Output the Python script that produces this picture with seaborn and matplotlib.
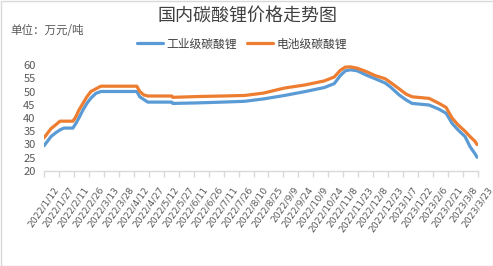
import matplotlib
matplotlib.use("Agg")
import matplotlib.pyplot as plt
import matplotlib.transforms as mtransforms
import seaborn as sns
import pandas as pd
from matplotlib.patches import Rectangle
from matplotlib.lines import Line2D

dates = ["2022-01-12","2022-01-15","2022-01-19","2022-01-24","2022-01-28","2022-02-01","2022-02-10",
         "2022-02-13","2022-02-16","2022-02-20","2022-02-24","2022-02-28","2022-03-05","2022-03-10",
         "2022-04-15","2022-04-18","2022-04-22","2022-04-26","2022-05-20","2022-05-21","2022-06-15",
         "2022-07-10","2022-08-01","2022-08-20","2022-09-10","2022-10-01","2022-10-20","2022-10-30",
         "2022-11-05","2022-11-10","2022-11-15","2022-11-22","2022-12-01","2022-12-10","2022-12-20",
         "2022-12-25","2023-01-03","2023-01-10","2023-01-16","2023-02-02","2023-02-12","2023-02-19",
         "2023-02-25","2023-03-03","2023-03-10","2023-03-15","2023-03-20","2023-03-22"]
industrial = [29.5, 31, 33, 34.5, 35.5, 36.2, 36.2,
              38, 40, 43, 45.5, 47.5, 49.3, 50,
              50, 48, 47, 46, 46, 45.5, 45.7,
              46, 46.3, 47.2, 48.5, 50, 51.5, 53,
              56, 57.8, 58.2, 57.8, 56.2, 54.8, 53.2,
              51.8, 48.7, 46.8, 45.5, 44.9, 43.3, 41.8,
              38.0, 35.5, 33.0, 29.2, 26.5, 25.2]
battery = [32.5, 34, 36, 37.5, 38.8, 38.8, 38.8,
           40.5, 43, 45.5, 48, 50, 51, 52,
           52, 50, 48.7, 48.3, 48.3, 47.8, 48.1,
           48.3, 48.5, 49.4, 51.3, 52.5, 54, 55.5,
           58, 59.2, 59.3, 58.8, 57.5, 56, 54.8,
           53.5, 51, 49, 48, 47.4, 45.5, 44,
           40, 37.4, 35, 33, 31.2, 30]
series_names = ["工业级碳酸锂", "电池级碳酸锂"]
title = "国内碳酸锂价格走势图"
unit_label = "单位：万元/吨"
y_ticks = [20, 25, 30, 35, 40, 45, 50, 55, 60]

sns.set_theme(style="white")
plt.rcParams['font.family'] = ['Noto Sans CJK SC', 'DejaVu Sans']

df = pd.concat([
    pd.DataFrame({"date": pd.to_datetime(dates), "price": industrial, "series": series_names[0]}),
    pd.DataFrame({"date": pd.to_datetime(dates), "price": battery, "series": series_names[1]}),
])

fig = plt.figure(figsize=(4.93, 2.66), dpi=100)
ax = fig.add_axes([44/493, 1-171/266, (478-44)/493, (171-65)/266])
sns.lineplot(data=df, x="date", y="price", hue="series", hue_order=series_names,
             palette=["#5B9BD5", "#ED7D31"], linewidth=2.3, ax=ax, legend=False)

start = pd.Timestamp("2022-01-12")
end = pd.Timestamp("2023-03-23")
ticks = pd.date_range(start, end, freq="15D")
ax.set_xlim(start, end)
ax.set_xticks(ticks)
ax.set_xticklabels([])
base = mtransforms.blended_transform_factory(ax.transData, ax.transAxes)
offset = mtransforms.ScaledTranslation(9/100, -14/100, fig.dpi_scale_trans)
for d in ticks:
    ax.text(d, 0, f"{d.year}/{d.month}/{d.day}", transform=base + offset, rotation=55,
            ha="right", va="top", rotation_mode="anchor", fontsize=6.6,
            color="#595959", family="DejaVu Sans", clip_on=False)
ax.set_ylim(20, 60)
ax.set_yticks(y_ticks)
ax.set_yticklabels([str(v) for v in y_ticks], fontsize=8, color="#595959")
ax.set_xlabel("")
ax.set_ylabel("")
for s in ["top", "right", "left"]:
    ax.spines[s].set_visible(False)
ax.spines["bottom"].set_color("#d9d9d9")
ax.spines["bottom"].set_linewidth(1)
ax.tick_params(axis="x", which="major", direction="out", length=4, width=1,
               color="#d9d9d9", pad=2, bottom=True)
ax.tick_params(axis="y", length=0, pad=6)

fig.text(247/493, 1-17/266, title, ha="center", va="center", fontsize=13, color="#404040")
fig.text(10/493, 1-31/266, unit_label, ha="left", va="center", fontsize=8.3, color="#595959")

handles = [Line2D([0], [0], color="#5B9BD5", lw=2.3), Line2D([0], [0], color="#ED7D31", lw=2.3)]
fig.legend(handles, series_names, loc="center", bbox_to_anchor=(242/493, 1-44/266), ncol=2,
           frameon=False, fontsize=8.5, handlelength=2.2, columnspacing=0.9, handletextpad=0.3,
           labelcolor="#404040")

fig.patches.append(Rectangle((0.5/493, 0.5/266), 1-1/493, 1-1/266, transform=fig.transFigure,
                             fill=False, edgecolor="#d9d9d9", linewidth=1))
fig.savefig("out.png", dpi=100)
